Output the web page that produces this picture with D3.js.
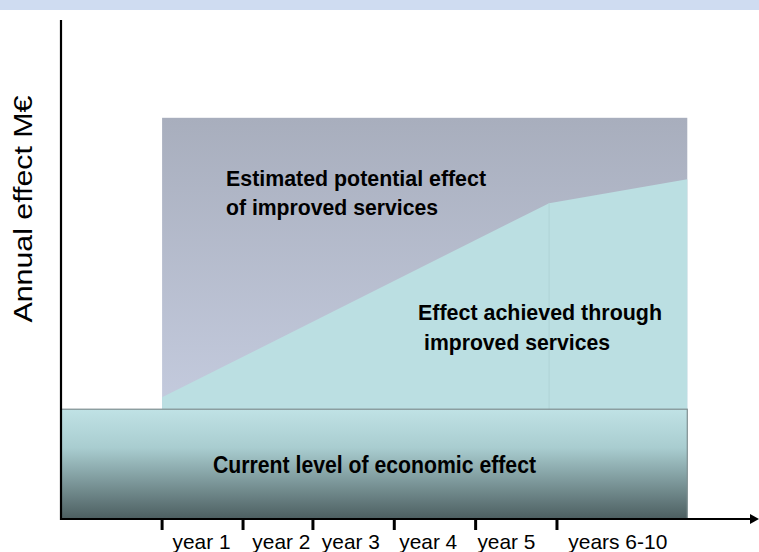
<!DOCTYPE html>
<html>
<head>
<meta charset="utf-8">
<script src="https://cdn.jsdelivr.net/npm/d3@7"></script>
<style>
  body { margin: 0; background: #fff; }
  svg { display: block; font-family: "Liberation Sans", Arial, sans-serif; }
</style>
</head>
<body>
<svg id="chart"></svg>
<script>
// period labels, where their ticks sit and where the label text is centred (time units)
var periods = ['year 1', 'year 2', 'year 3', 'year 4', 'year 5', 'years 6-10'];
var periodStart = [0, 1.025, 1.91, 2.94, 3.97, 5.0];
var labelAt = [0.5, 1.51, 2.39, 3.37, 4.36, 5.77];
var periodEndAll = 6.65;

// levels (arbitrary units of annual effect)
var currentLevel = 22;
var potentialLevel = 80.4;
var achievedT = [0, 4.9, 6.65];
var achievedV = [24.4, 63.3, 68.1];

var width = 759, height = 552;

var svg = d3.select('#chart')
  .attr('width', width)
  .attr('height', height);

var x = d3.scaleLinear().domain([-1.28, 7.52]).range([61, 756]);
var y = d3.scaleLinear().domain([0, 100]).range([519, 20]);

var defs = svg.append('defs');

var gCur = defs.append('linearGradient').attr('id', 'gCur')
  .attr('x1', 0).attr('y1', 0).attr('x2', 0).attr('y2', 1);
gCur.append('stop').attr('offset', '0%').attr('stop-color', '#c0e2e5');
gCur.append('stop').attr('offset', '35%').attr('stop-color', '#a9cdd0');
gCur.append('stop').attr('offset', '100%').attr('stop-color', '#4c5e60');

var gPot = defs.append('linearGradient').attr('id', 'gPot')
  .attr('x1', 0).attr('y1', 0).attr('x2', 0).attr('y2', 1);
gPot.append('stop').attr('offset', '0%').attr('stop-color', '#a8aebd');
gPot.append('stop').attr('offset', '100%').attr('stop-color', '#c4cbde');

// top band
svg.append('rect')
  .attr('x', 0).attr('y', 0)
  .attr('width', width).attr('height', 10)
  .attr('fill', '#cfdcf1');

var t0 = periodStart[0];
var tEnd = periodEndAll;

// estimated potential effect
svg.append('rect')
  .attr('x', x(t0)).attr('y', y(potentialLevel))
  .attr('width', x(tEnd) - x(t0))
  .attr('height', y(currentLevel) - y(potentialLevel))
  .attr('fill', 'url(#gPot)');

// achieved effect area
var area = d3.area()
  .x(function(d, i) { return x(achievedT[i]); })
  .y0(y(currentLevel))
  .y1(function(d) { return y(d); });

svg.append('path')
  .datum(achievedV)
  .attr('d', area)
  .attr('fill', '#bbdfe2');

// faint knee line
svg.append('line')
  .attr('x1', x(achievedT[1])).attr('x2', x(achievedT[1]))
  .attr('y1', y(achievedV[1])).attr('y2', y(currentLevel))
  .attr('stroke', '#b0d3d6').attr('stroke-width', 1);

// current level
svg.append('rect')
  .attr('x', x.range()[0]).attr('y', y(currentLevel))
  .attr('width', x(tEnd) - x.range()[0])
  .attr('height', y(0) - y(currentLevel))
  .attr('fill', 'url(#gCur)')
  .attr('stroke', '#7e8e90').attr('stroke-width', 1.2);

// axes
svg.append('line')
  .attr('x1', x.range()[0]).attr('x2', x.range()[0])
  .attr('y1', y(100)).attr('y2', y(0) + 1)
  .attr('stroke', '#000').attr('stroke-width', 2.2);

svg.append('line')
  .attr('x1', x.range()[0]).attr('x2', 755)
  .attr('y1', y(0)).attr('y2', y(0))
  .attr('stroke', '#000').attr('stroke-width', 2.2);

svg.append('path')
  .attr('d', 'M750,' + (y(0) - 5) + 'L759,' + y(0) + 'L750,' + (y(0) + 5) + 'Z')
  .attr('fill', '#000');

// ticks
svg.selectAll('.tick')
  .data(periodStart)
  .enter().append('line')
  .attr('class', 'tick')
  .attr('x1', function(d) { return x(d); })
  .attr('x2', function(d) { return x(d); })
  .attr('y1', y(0))
  .attr('y2', y(0) + 11)
  .attr('stroke', '#000').attr('stroke-width', 3);

svg.selectAll('.plabel')
  .data(periods)
  .enter().append('text')
  .attr('class', 'plabel')
  .attr('x', function(d, i) { return x(labelAt[i]); })
  .attr('y', 549)
  .attr('text-anchor', 'middle')
  .attr('font-size', 21)
  .attr('fill', '#000')
  .attr('textLength', function(d, i) { return i === 5 ? 99 : 58; })
  .attr('lengthAdjust', 'spacingAndGlyphs')
  .text(function(d) { return d; });

// y label
svg.append('text')
  .attr('transform', 'translate(32,209) rotate(-90)')
  .attr('text-anchor', 'middle')
  .attr('font-size', 26)
  .attr('fill', '#000')
  .attr('textLength', 227)
  .attr('lengthAdjust', 'spacingAndGlyphs')
  .text('Annual effect M€');

// annotations
var notes = [
  { t: 'Estimated potential effect', x: 226, y: 186, w: 260, s: 22 },
  { t: 'of improved services', x: 226, y: 215, w: 212, s: 22 },
  { t: 'Effect achieved through', x: 418, y: 320, w: 244, s: 22 },
  { t: 'improved services', x: 424, y: 350, w: 186, s: 22 },
  { t: 'Current level of economic effect', x: 213, y: 473, w: 323, s: 24 }
];

svg.selectAll('.note')
  .data(notes)
  .enter().append('text')
  .attr('class', 'note')
  .attr('x', function(d) { return d.x; })
  .attr('y', function(d) { return d.y; })
  .attr('font-size', function(d) { return d.s; })
  .attr('font-weight', 'bold')
  .attr('fill', '#000')
  .attr('textLength', function(d) { return d.w; })
  .attr('lengthAdjust', 'spacingAndGlyphs')
  .text(function(d) { return d.t; });
</script>
</body>
</html>
